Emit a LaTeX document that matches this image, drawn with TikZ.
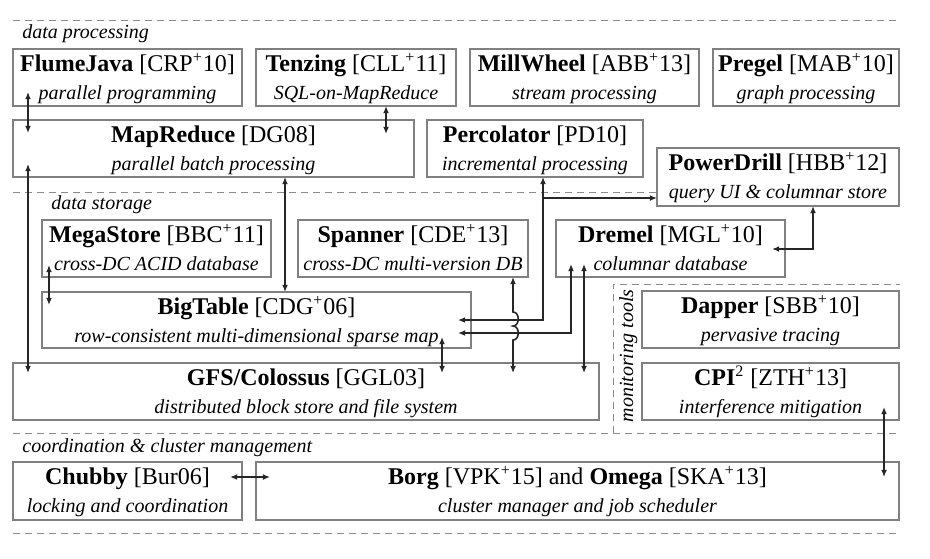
\documentclass[tikz,border=0pt]{standalone}
\usepackage{fontspec}
\setmainfont{Liberation Serif}
\usetikzlibrary{calc,fit,arrows.meta}
\tikzset{
  box/.style={draw=black!50, line width=0.6pt, fill=white, inner sep=0pt, outer sep=0pt},
  ttl/.style={anchor=base, inner sep=0pt, font=\fontsize{12}{14}\selectfont},
  sub/.style={anchor=base, inner sep=0pt, font=\fontsize{10}{12}\selectfont\itshape},
  sep/.style={draw=black!45, line width=0.5pt, dash pattern=on 3.5pt off 2.5pt},
  lbl/.style={anchor=base west, inner sep=0pt, font=\fontsize{10}{12}\selectfont\itshape},
  conn/.style={draw=black!85, line width=0.8pt, >={Latex[length=3.6pt,width=3pt]}},
}
\newcommand\sysbox[7]{%
  \node[box, fit={(#2,#3)(#4,#5)}] (#1) {};
  \node[ttl] (#1-t) at ($(#1.north)+(0,22)$) {#6};
  \node[sub] (#1-s) at ($(#1.north)+(0,50)$) {#7};
}
\newcommand\p{\textsuperscript{+}}
\begin{document}
\begin{tikzpicture}[x=0.5pt,y=-0.5pt]
\useasboundingbox (0,0) rectangle (930,558);
% separators
\draw[sep] (13,20) -- (900,20);
\draw[sep] (13,192) -- (900,192);
\draw[sep] (13,433) -- (900,433);
\draw[sep] (13,533) -- (900,533);
\draw[sep] (613,433) -- (613,284) -- (900,284);
% group labels
\node[lbl] (l1) at (22,38) {data processing};
\node[lbl] (l2) at (51,209) {data storage};
\node[lbl] (l3) at (22,452) {coordination \& cluster management};
\node[sub, rotate=90] (l4) at (633,356) {monitoring tools};
% boxes
\sysbox{fj}{13}{49}{242}{106}{\textbf{FlumeJava} [CRP\p10]}{parallel programming}
\sysbox{tz}{256}{49}{456}{106}{\textbf{Tenzing} [CLL\p11]}{SQL-on-MapReduce}
\sysbox{mw}{470}{49}{699}{106}{\textbf{MillWheel} [ABB\p13]}{stream processing}
\sysbox{pg}{713}{49}{899}{106}{\textbf{Pregel} [MAB\p10]}{graph processing}
\sysbox{mr}{13}{120}{414}{177}{\textbf{MapReduce} [DG08]}{parallel batch processing}
\sysbox{pc}{427}{120}{643}{177}{\textbf{Percolator} [PD10]}{incremental processing}
\sysbox{pd}{657}{148}{899}{206}{\textbf{PowerDrill} [HBB\p12]}{query UI \& columnar store}
\sysbox{ms}{42}{220}{271}{277}{\textbf{MegaStore} [BBC\p11]}{cross-DC ACID database}
\sysbox{sp}{298}{220}{528}{277}{\textbf{Spanner} [CDE\p13]}{cross-DC multi-version DB}
\sysbox{dr}{556}{220}{785}{277}{\textbf{Dremel} [MGL\p10]}{columnar database}
\sysbox{bt}{42}{292}{471}{348}{\textbf{BigTable} [CDG\p06]}{row-consistent multi-dimensional sparse map}
\sysbox{gfs}{13}{363}{599}{420}{\textbf{GFS/Colossus} [GGL03]}{distributed block store and file system}
\sysbox{dp}{642}{291}{899}{348}{\textbf{Dapper} [SBB\p10]}{pervasive tracing}
\sysbox{cpi}{642}{363}{899}{420}{\textbf{CPI}\textsuperscript{2} [ZTH\p13]}{interference mitigation}
\sysbox{cb}{13}{462}{242}{520}{\textbf{Chubby} [Bur06]}{locking and coordination}
\sysbox{bg}{256}{462}{899}{520}{\textbf{Borg} [VPK\p15] and \textbf{Omega} [SKA\p13]}{cluster manager and job scheduler}
% connectors
\draw[conn,<->] ($(fj.south west)+(15,-14)$) -- ($(mr.north west)+(15,13)$);
\draw[conn,<->] ($(tz.south west)+(130,0)$) -- ($(mr.north west)+(373,14)$);
\draw[conn,<->] ($(mr.south west)+(15,-13)$) -- ($(gfs.north west)+(15,10)$);
\draw[conn,<->] ($(mr.south west)+(272,0)$) -- ($(bt.north west)+(243,0)$);
\draw[conn,<->] ($(ms.south west)+(7,-12)$) -- ($(bt.north west)+(7,13)$);
\draw[conn,<->] ($(pc.south west)+(116,0)$) |- ($(bt.south east)+(-13,-28)$);
\draw[conn,->] ($(pc.south west)+(116,21)$) -- ($(pd.south west)+(0,-8)$);
\draw[conn,<->] ($(dr.south west)+(15,-13)$) |- ($(bt.south east)+(-13,-15)$);
\draw[conn,<->] ($(sp.south west)+(215,0)$) -- ++(0,35)
   .. controls +(7,0) and +(7,0) .. ++(0,14)
   .. controls +(7,0) and +(7,0) .. ++(0,14)
   -- ($(gfs.north west)+(500,10)$);
\draw[conn,<->] ($(dr.south west)+(28,-13)$) -- ($(gfs.north west)+(571,10)$);
\draw[conn,<->] ($(bt.south east)+(-29,-11)$) -- ($(gfs.north west)+(429,10)$);
\draw[conn,<->] ($(dr.south east)+(-13,-28)$) -| ($(pd.south west)+(156,0)$);
\draw[conn,<->] ($(cpi.south east)+(-15,-13)$) -- ($(bg.north east)+(-15,15)$);
\draw[conn,<->] ($(cb.south east)+(-12,-43)$) -- ($(bg.south west)+(14,-43)$);
\end{tikzpicture}
\end{document}
